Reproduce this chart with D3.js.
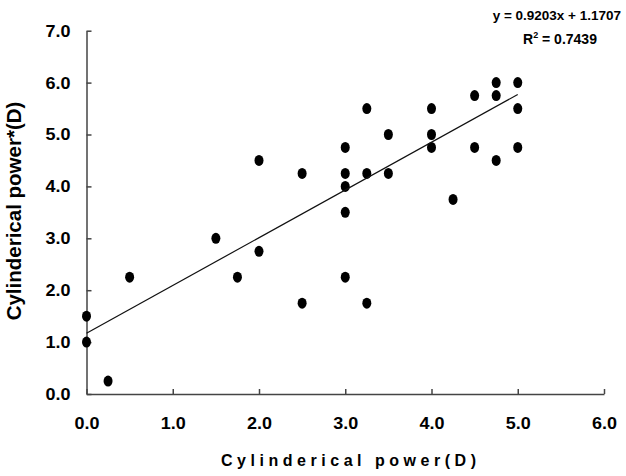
<!DOCTYPE html>
<html>
<head>
<meta charset="utf-8">
<script src="https://cdn.jsdelivr.net/npm/d3@7"></script>
<style>
body { margin: 0; background: white; }
text { font-family: "Liberation Sans", Arial, sans-serif; font-weight: bold; }
</style>
</head>
<body>
<script>
var width = 626,
	height = 476;

// measured values (x = cylinderical power, y = cylinderical power*)
var xVals = [0, 0, 0.25, 0.5, 1.5, 1.75, 2.0, 2.0, 2.5, 2.5, 3.0, 3.0, 3.0, 3.0, 3.0, 3.25, 3.25, 3.25, 3.5, 3.5, 4.0, 4.0, 4.0, 4.25, 4.5, 4.5, 4.75, 4.75, 4.75, 5.0, 5.0, 5.0];
var yVals = [1.5, 1.0, 0.25, 2.25, 3.0, 2.25, 4.5, 2.75, 4.25, 1.75, 4.75, 4.25, 4.0, 3.5, 2.25, 5.5, 4.25, 1.75, 5.0, 4.25, 5.5, 5.0, 4.75, 3.75, 5.75, 4.75, 6.0, 5.75, 4.5, 6.0, 5.5, 4.75];

var xTicks = [0, 1, 2, 3, 4, 5, 6];
var yTicks = [0, 1, 2, 3, 4, 5, 6, 7];

var slope = 0.9203,
	intercept = 1.1707,
	r2 = 0.7439;
var fitRange = [0, 5];

var svg = d3.select("body").append("svg").attr("width", width).attr("height", height);

var X = d3.scaleLinear().domain([0, 6]).range([86.5, 604]);
var Y = d3.scaleLinear().domain([0, 7]).range([394, 30.7]);

// axes
var xAxis = svg.append("g").attr("transform", "translate(0," + Y(0) + ")")
	.call(d3.axisBottom(X).tickValues(xTicks).tickFormat(d3.format(".1f")).tickSizeInner(-5).tickSizeOuter(0).tickPadding(23));
var yAxis = svg.append("g").attr("transform", "translate(" + X(0) + ",0)")
	.call(d3.axisLeft(Y).tickValues(yTicks).tickFormat(d3.format(".1f")).tickSizeInner(-5).tickSizeOuter(0).tickPadding(16));

svg.selectAll(".domain, .tick line").style("stroke", "#444").style("stroke-width", 1.5);
svg.selectAll(".tick text").style("font-size", "17px").style("fill", "black")
	.style("font-family", "'Liberation Sans', Arial, sans-serif").style("font-weight", "bold")
	.attr("textLength", 25).attr("lengthAdjust", "spacingAndGlyphs");

// points
var dots = d3.range(xVals.length).map(function(i) {
	return { x: xVals[i], y: yVals[i] }
});

svg.selectAll(".dot").data(dots).enter().append("ellipse").attr("class", "dot")
	.attr("cx", function(d) { return X(d.x) })
	.attr("cy", function(d) { return Y(d.y) })
	.attr("rx", 4.5)
	.attr("ry", 5.5)
	.style("fill", "black")

// trend line
svg.append("line")
	.attr("x1", X(fitRange[0])).attr("y1", Y(slope * fitRange[0] + intercept))
	.attr("x2", X(fitRange[1])).attr("y2", Y(slope * fitRange[1] + intercept))
	.style("stroke", "#111")
	.style("stroke-width", 1.2)

// equation
svg.append("text").attr("x", 621).attr("y", 20)
	.attr("text-anchor", "end")
	.style("font-size", "13.5px")
	.text("y = " + slope + "x + " + intercept);

var rt = svg.append("text").attr("x", 523).attr("y", 44).style("font-size", "14px");
rt.append("tspan").text("R");
rt.append("tspan").attr("dy", -6).style("font-size", "9px").text("2");
rt.append("tspan").attr("dy", 6).text(" = " + r2);

// axis titles
svg.append("text").attr("x", 221).attr("y", 466)
	.attr("textLength", 255).attr("lengthAdjust", "spacing")
	.style("font-size", "16px")
	.text("Cylinderical power(D)");

svg.append("text").attr("transform", "translate(21,211) rotate(-90)")
	.attr("text-anchor", "middle")
	.style("font-size", "20.5px")
	.text("Cylinderical power*(D)");
</script>
</body>
</html>
